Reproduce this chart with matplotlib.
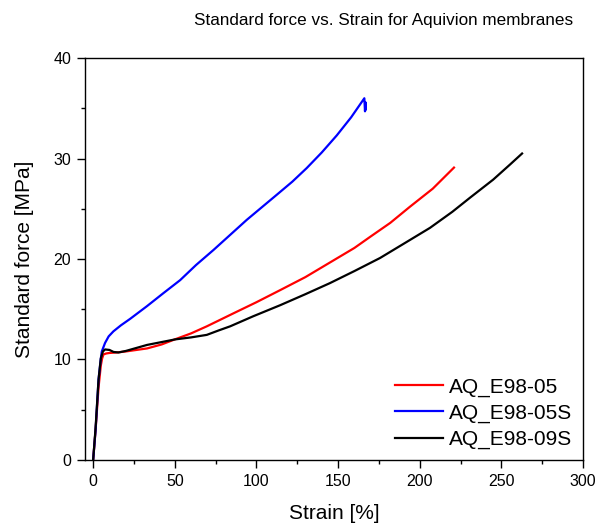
import matplotlib

matplotlib.use("Agg")
import matplotlib.pyplot as plt
from matplotlib.ticker import MultipleLocator

plt.rcParams["font.family"] = ["Liberation Sans", "DejaVu Sans"]

# values (strain %, stress MPa)
e05_strain = [0, 1.5, 3.3, 4.7, 5.5, 6.3, 8, 10, 14.5, 20, 33, 42, 50, 60, 69.6, 86,
              100, 114.5, 130, 145, 160, 169.6, 182, 194, 208, 221]
e05_stress = [0, 3.0, 7.2, 9.4, 10.1, 10.5, 10.6, 10.65, 10.7, 10.8, 11.1, 11.5, 12.0,
              12.6, 13.3, 14.6, 15.7, 16.9, 18.2, 19.65, 21.1, 22.2, 23.6, 25.2, 27.0, 29.1]

e05s_strain = [0, 1.5, 3.3, 4.7, 5.3, 7.3, 9.5, 12.4, 17, 22.7, 28, 32.9, 43, 53.3,
               63, 73.7, 94.1, 112.5, 122, 130.8, 140, 149.2, 158, 166.1, 166.5,
               166.8, 167.0]
e05s_stress = [0, 3.0, 8.0, 10.1, 10.8, 11.65, 12.3, 12.8, 13.4, 14.05, 14.7, 15.3,
               16.6, 17.9, 19.4, 20.9, 23.9, 26.4, 27.7, 29.05, 30.6, 32.3, 34.1, 36.0,
               34.7, 35.6, 34.9]

e09s_strain = [0, 1.5, 3.3, 4.7, 6, 7.3, 10, 12.5, 15.5, 20, 33, 50.2, 60, 69.6, 77,
               83.9, 98, 114.5, 130, 145, 160, 175.7, 190, 206.3, 220, 230.8, 245,
               255.3, 262.7]
e09s_stress = [0, 3.2, 8.0, 10.1, 10.8, 11.0, 10.95, 10.75, 10.7, 10.85, 11.45,
               12.0, 12.2, 12.45, 12.9, 13.3, 14.3, 15.4, 16.5, 17.6, 18.8, 20.1,
               21.5, 23.1, 24.7, 26.1, 27.9, 29.4, 30.5]

series = [
    ("AQ_E98-05", e05_strain, e05_stress, "#ff0000"),
    ("AQ_E98-05S", e05s_strain, e05s_stress, "#0000ff"),
    ("AQ_E98-09S", e09s_strain, e09s_stress, "#000000"),
]

fig = plt.figure(figsize=(6.01, 5.23), dpi=100)
ax = fig.add_axes([0.1414, 0.1205, 0.8286, 0.7685])

for label, x, y, color in series:
    ax.plot(x, y, color=color, lw=1.6, label=label)

ax.set_xlim(-5, 300)
ax.set_ylim(0, 40)
ax.xaxis.set_major_locator(MultipleLocator(50))
ax.xaxis.set_minor_locator(MultipleLocator(25))
ax.yaxis.set_major_locator(MultipleLocator(10))
ax.yaxis.set_minor_locator(MultipleLocator(5))
ax.tick_params(which="major", direction="out", length=5.5, width=1.0,
               labelsize=11.5, pad=4.5)
ax.tick_params(which="minor", direction="out", length=3, width=1.0)
for side in ax.spines.values():
    side.set_linewidth(1.0)

ax.set_xlabel("Strain [%]", fontsize=15, labelpad=11)
ax.set_ylabel("Standard force [MPa]", fontsize=15, labelpad=14)
fig.text(0.639, 0.960, "Standard force vs. Strain for Aquivion membranes",
         ha="center", va="center", fontsize=12.3)

ax.legend(loc="lower right", frameon=False, fontsize=15, handlelength=2.3,
          handletextpad=0.3, labelspacing=0.33, borderaxespad=0.12)

fig.savefig("out.png", dpi=100)
plt.close(fig)
